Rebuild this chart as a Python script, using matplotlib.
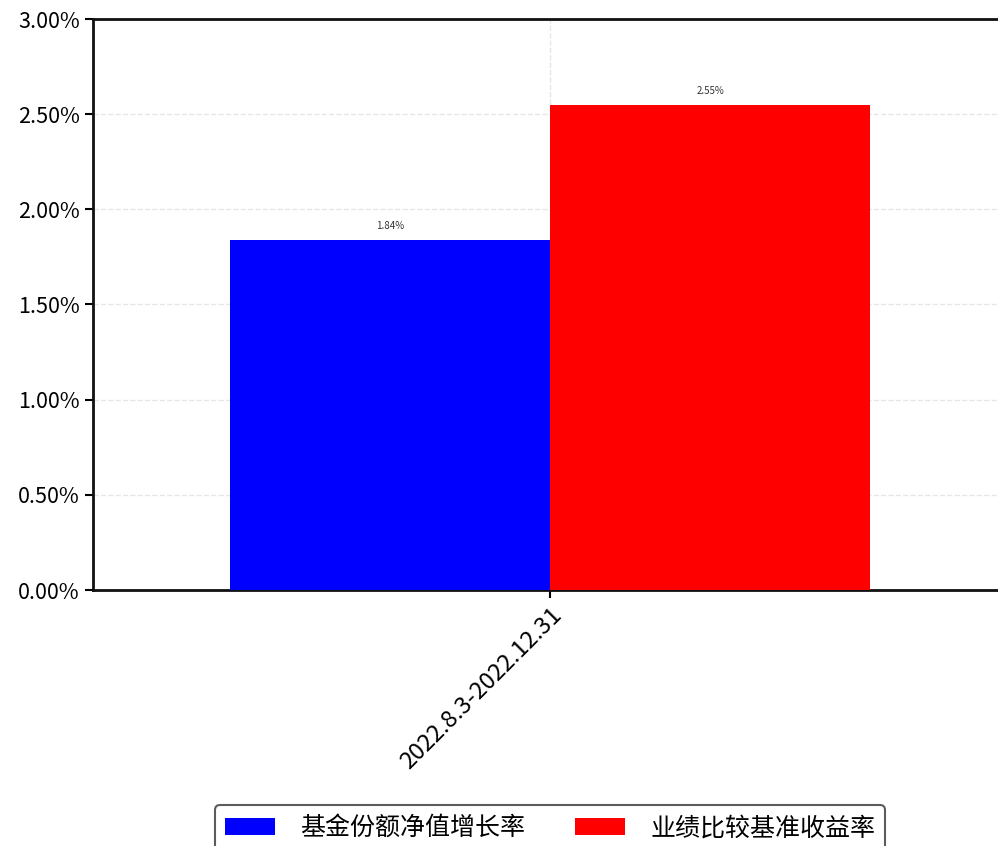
import matplotlib
matplotlib.use("Agg")
import matplotlib.pyplot as plt
import numpy as np
from matplotlib.ticker import FuncFormatter

plt.rcParams["font.family"] = ["Noto Sans CJK SC", "DejaVu Sans"]

categories = ["2022.8.3-2022.12.31"]
series_names = ["基金份额净值增长率", "业绩比较基准收益率"]
series_values = [[1.84], [2.55]]
series_colors = ["#0000ff", "#ff0000"]

fig = plt.figure(figsize=(9.98, 8.46), dpi=100)
ax = fig.add_axes([93 / 998, 1 - 590 / 846, (1007 - 93) / 998, (590 - 19) / 846])

x = np.arange(len(categories))
width = 0.4
offsets = [-width / 2, width / 2]
for name, vals, color, off in zip(series_names, series_values, series_colors, offsets):
    bars = ax.bar(x + off, vals, width, color=color, label=name, zorder=3)
    for b, v in zip(bars, vals):
        ax.annotate(f"{v:.2f}%", (b.get_x() + b.get_width() / 2, b.get_height()),
                    xytext=(0, 6), textcoords="offset points",
                    ha="center", va="bottom", fontsize=7, color="#333333")

ax.set_ylim(0, 3.0)
ax.set_xlim(-0.571, 0.571)
ax.set_yticks(np.arange(0, 3.01, 0.5))
ax.yaxis.set_major_formatter(FuncFormatter(lambda v, p: f"{v:.2f}%"))
ax.set_xticks(x)
ax.set_xticklabels(categories, rotation=45, ha="right", rotation_mode="anchor", fontsize=17)
ax.tick_params(axis="y", labelsize=15.5, length=6, width=1.5)
ax.tick_params(axis="x", length=6, width=1.5)
ax.grid(True, linestyle="--", color="#e6e6e6", linewidth=1, zorder=0)

for s in ax.spines.values():
    s.set_linewidth(2)
    s.set_color("#111111")

leg = ax.legend(loc="upper center", bbox_to_anchor=(0.5, -0.355), ncol=2,
                fontsize=18, frameon=True, edgecolor="#333333", fancybox=True,
                handlelength=2.0, handletextpad=1.0, columnspacing=2.0)
leg.get_frame().set_linewidth(1.5)

fig.savefig("out.png", dpi=100)
